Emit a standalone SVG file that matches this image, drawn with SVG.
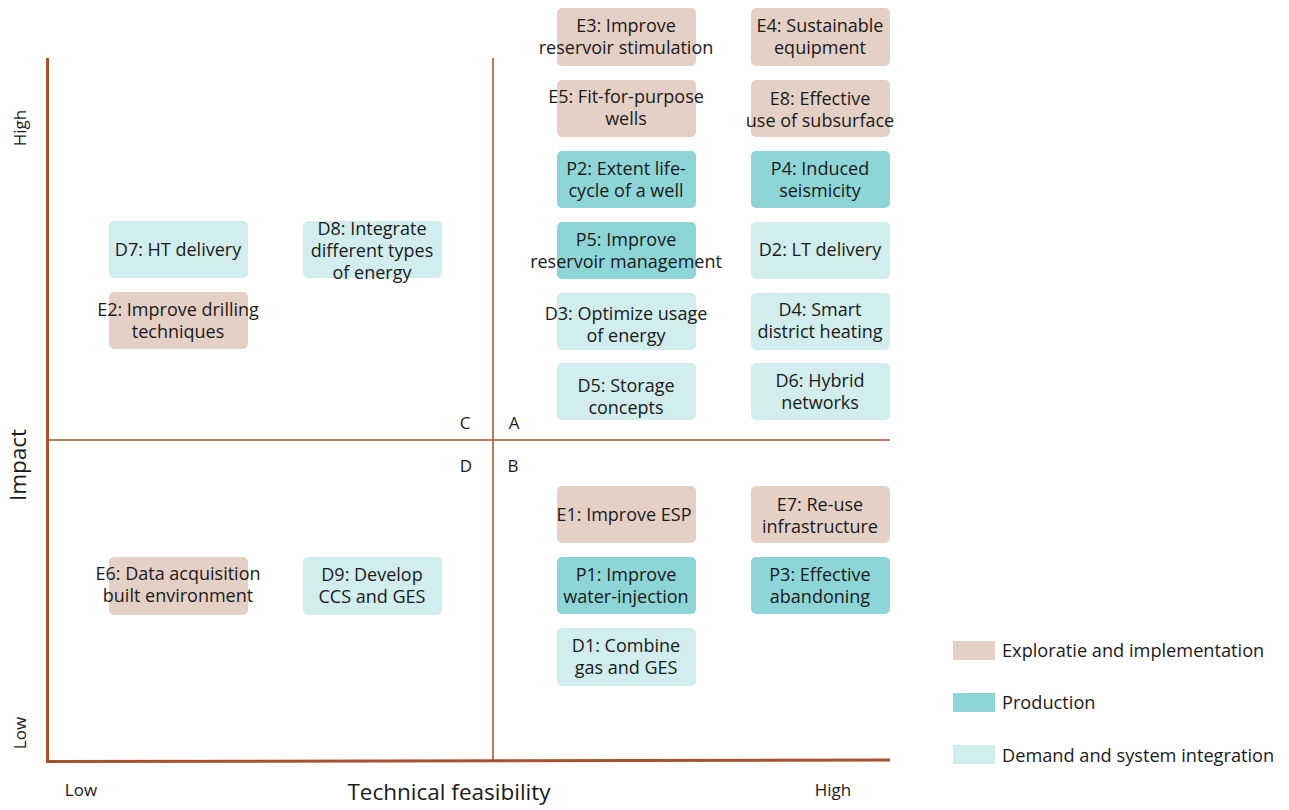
<svg xmlns="http://www.w3.org/2000/svg" width="1289" height="810" viewBox="0 0 1289 810">
<style>
text{font-family:"Open Sans","Noto Sans","Liberation Sans",sans-serif;fill:#1a1a1a}
.n text{font-size:18px;text-anchor:middle}
.e{fill:#e5d0c6}
.p{fill:#8dd5d7}
.d{fill:#d1eded}
.ax{stroke:#a9502d;fill:none}
.lab{font-size:17px}
.big{font-size:22.5px}
.leg{font-size:18.2px}
</style>
<rect width="1289" height="810" fill="#fff"/>
<g id="axes">
<line class="ax" x1="493" y1="58" x2="493" y2="761" stroke-width="1.5"/>
<line class="ax" x1="47" y1="440" x2="890" y2="440" stroke-width="1.5"/>
<line class="ax" x1="47.5" y1="58" x2="47.5" y2="762" stroke-width="3"/>
<line class="ax" x1="46" y1="761.5" x2="890" y2="760" stroke-width="3"/>
</g>
<g id="axis-labels">
<text class="lab" transform="translate(26,128) rotate(-90)" text-anchor="middle">High</text>
<text class="lab" transform="translate(26,733) rotate(-90)" text-anchor="middle">Low</text>
<text class="big" transform="translate(26,465) rotate(-90)" text-anchor="middle">Impact</text>
<text class="big" x="449" y="800" text-anchor="middle">Technical feasibility</text>
<text class="lab" x="81" y="796" text-anchor="middle">Low</text>
<text class="lab" x="833" y="796" text-anchor="middle">High</text>
<text class="lab" x="465" y="429" text-anchor="middle">C</text>
<text class="lab" x="514" y="429" text-anchor="middle">A</text>
<text class="lab" x="466" y="472" text-anchor="middle">D</text>
<text class="lab" x="513" y="472" text-anchor="middle">B</text>
</g>
<g id="connectors"></g>
<g id="E3" class="n"><rect class="e" x="557" y="8" width="139" height="58" rx="5"/><text x="626" y="32">E3: Improve</text><text x="626" y="54">reservoir stimulation</text></g>
<g id="E4" class="n"><rect class="e" x="751" y="8" width="139" height="58" rx="5"/><text x="820" y="32">E4: Sustainable</text><text x="820" y="54">equipment</text></g>
<g id="E5" class="n"><rect class="e" x="557" y="80" width="139" height="57" rx="5"/><text x="626" y="103">E5: Fit-for-purpose</text><text x="626" y="125">wells</text></g>
<g id="E8" class="n"><rect class="e" x="751" y="80" width="139" height="57" rx="5"/><text x="820" y="105">E8: Effective</text><text x="820" y="127">use of subsurface</text></g>
<g id="P2" class="n"><rect class="p" x="557" y="151" width="139" height="57" rx="5"/><text x="626" y="175">P2: Extent life-</text><text x="626" y="197">cycle of a well</text></g>
<g id="P4" class="n"><rect class="p" x="751" y="151" width="139" height="57" rx="5"/><text x="820" y="175">P4: Induced</text><text x="820" y="197">seismicity</text></g>
<g id="P5" class="n"><rect class="p" x="557" y="222" width="139" height="57" rx="5"/><text x="626" y="246">P5: Improve</text><text x="626" y="268">reservoir management</text></g>
<g id="D2" class="n"><rect class="d" x="751" y="222" width="139" height="57" rx="5"/><text x="820" y="256">D2: LT delivery</text></g>
<g id="D3" class="n"><rect class="d" x="557" y="293" width="139" height="57" rx="5"/><text x="626" y="320">D3: Optimize usage</text><text x="626" y="342">of energy</text></g>
<g id="D4" class="n"><rect class="d" x="751" y="293" width="139" height="57" rx="5"/><text x="820" y="316">D4: Smart</text><text x="820" y="338">district heating</text></g>
<g id="D5" class="n"><rect class="d" x="557" y="363" width="139" height="57" rx="5"/><text x="626" y="392">D5: Storage</text><text x="626" y="414">concepts</text></g>
<g id="D6" class="n"><rect class="d" x="751" y="363" width="139" height="57" rx="5"/><text x="820" y="387">D6: Hybrid</text><text x="820" y="409">networks</text></g>
<g id="E1" class="n"><rect class="e" x="557" y="486" width="139" height="57" rx="5"/><text x="624" y="521">E1: Improve ESP</text></g>
<g id="E7" class="n"><rect class="e" x="751" y="486" width="139" height="57" rx="5"/><text x="820" y="511">E7: Re-use</text><text x="820" y="533">infrastructure</text></g>
<g id="P1" class="n"><rect class="p" x="557" y="557" width="139" height="57" rx="5"/><text x="626" y="581">P1: Improve</text><text x="626" y="603">water-injection</text></g>
<g id="P3" class="n"><rect class="p" x="751" y="557" width="139" height="57" rx="5"/><text x="820" y="581">P3: Effective</text><text x="820" y="603">abandoning</text></g>
<g id="D1" class="n"><rect class="d" x="557" y="628" width="139" height="58" rx="5"/><text x="626" y="652">D1: Combine</text><text x="626" y="674">gas and GES</text></g>
<g id="D7" class="n"><rect class="d" x="109" y="221" width="139" height="57" rx="5"/><text x="178" y="256">D7: HT delivery</text></g>
<g id="D8" class="n"><rect class="d" x="303" y="221" width="139" height="57" rx="5"/><text x="372" y="235">D8: Integrate</text><text x="372" y="257">different types</text><text x="372" y="279">of energy</text></g>
<g id="E2" class="n"><rect class="e" x="109" y="292" width="139" height="57" rx="5"/><text x="178" y="316">E2: Improve drilling</text><text x="178" y="338">techniques</text></g>
<g id="E6" class="n"><rect class="e" x="109" y="557" width="139" height="58" rx="5"/><text x="178" y="580">E6: Data acquisition</text><text x="178" y="602">built environment</text></g>
<g id="D9" class="n"><rect class="d" x="303" y="557" width="139" height="58" rx="5"/><text x="372" y="581">D9: Develop</text><text x="372" y="603">CCS and GES</text></g>
<g id="legend">
<rect class="e" x="953" y="641" width="42" height="19"/><text class="leg" x="1002" y="657">Exploratie and implementation</text>
<rect class="p" x="953" y="693" width="42" height="19"/><text class="leg" x="1002" y="709">Production</text>
<rect class="d" x="953" y="745" width="42" height="19"/><text class="leg" x="1002" y="762">Demand and system integration</text>
</g>
</svg>
